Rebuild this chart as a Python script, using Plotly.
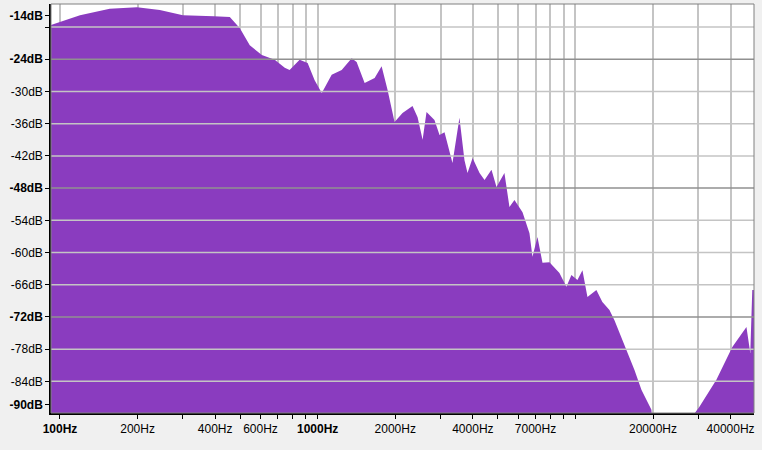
import plotly.graph_objects as go
import numpy as np

freq_hz = [92.3,119.6,156,199,244,300,395,456,499,545,607,681,745,778,851,914,973,1037,1133,1239,1355,1416,1521,1663,1770,1867,1987,2134,2333,2441,2553,2644,2838,2970,3105,3334,3548,3711,3813,3990,4246,4440,4724,4940,5303,5546,5800,6233,6633,6813,7124,7450,7928,8669,9226,9648,10180,10646,11133,12058,12721,13552,14172,15070,15913,16946,18046,19717,20500,21180,25310,26930,30240,35230,40620,46080,47690,48550,49300]
level_db = [-17.6,-15.8,-14.6,-14.3,-14.8,-15.8,-16.0,-16.1,-18.2,-21.4,-23.2,-24.1,-25.6,-26.0,-24.1,-24.7,-27.9,-30.3,-26.9,-26.0,-23.8,-24.5,-28.4,-27.5,-25.3,-29.7,-35.7,-34.0,-32.7,-34.8,-39.0,-33.8,-35.3,-38.1,-37.6,-43.3,-34.9,-42.8,-45.2,-42.4,-45.2,-46.5,-44.6,-47.8,-45.2,-51.5,-50.2,-52.5,-56.4,-60.8,-57.1,-61.9,-61.8,-63.8,-66.4,-64.2,-65.1,-63.3,-68.3,-67.0,-69.2,-70.7,-72.6,-75.8,-78.7,-81.9,-85.6,-89.3,-100,-100,-100,-92,-88.8,-83.7,-77.6,-73.9,-78.7,-67.0,-67.0]

x_labels = {100:"<b>100Hz</b>",200:"200Hz",400:"400Hz",600:"600Hz",1000:"<b>1000Hz</b>",
            2000:"2000Hz",4000:"4000Hz",7000:"7000Hz",20000:"20000Hz",40000:"40000Hz"}
y_ticks = [-15.9,-18,-24,-30,-36,-42,-48,-54,-60,-66,-72,-78,-84,-88.3]
y_text = ["<b>-14dB</b>","","<b>-24dB</b>","-30dB","-36dB","-42dB","<b>-48dB</b>","-54dB","-60dB","-66dB","<b>-72dB</b>","-78dB","-84dB","<b>-90dB</b>"]

grid_x = [m*10**e for e in range(2,5) for m in range(1,10) if m*10**e <= 50000]
floor = [-120]*len(freq_hz)

fig = go.Figure()
fig.add_trace(go.Scatter(x=freq_hz, y=floor, mode="lines", line=dict(width=0), hoverinfo="skip", showlegend=False))
fig.add_trace(go.Scatter(x=freq_hz, y=level_db, mode="lines", line=dict(width=0, color="#8a3cbf"),
                         fill="tonexty", fillcolor="#8a3cbf", showlegend=False))
fig.update_layout(
    width=762, height=450, margin=dict(l=51, r=8, t=4, b=37, autoexpand=False),
    paper_bgcolor="#f0f0f0", plot_bgcolor="white",
    font=dict(family="Liberation Sans", size=12, color="black"),
    xaxis=dict(type="log", range=[np.log10(92.3), np.log10(49300)], automargin=False,
               tickvals=grid_x, ticktext=[x_labels.get(v, "") for v in grid_x],
               showgrid=True, gridcolor="#c4c4c4", gridwidth=1.5, ticks="outside", ticklen=4,
               tickcolor="black", showline=True, linecolor="black", linewidth=1.5,
               layer="above traces", zeroline=False),
    yaxis=dict(range=[-89.9, -13.7], tickvals=y_ticks, ticktext=y_text, automargin=False,
               showgrid=False, ticks="outside", ticklen=4,
               tickcolor="black", showline=True, linecolor="black", linewidth=1.5,
               layer="above traces", zeroline=False),
)
for g in range(-18, -89, -6):
    fig.add_shape(type="line", xref="paper", x0=0, x1=1, yref="y", y0=g, y1=g,
                  line=dict(color="#c4c4c4" if g not in (-24, -48, -72) else "#909090", width=1.5),
                  layer="above")
fig.add_shape(type="rect", xref="paper", yref="paper", x0=0, x1=1, y0=0, y1=1,
              line=dict(color="#808080", width=1))
fig.write_html("out.html", config={"displayModeBar": False},
               post_script="document.body.style.margin='0';document.body.style.background='#f0f0f0';")
